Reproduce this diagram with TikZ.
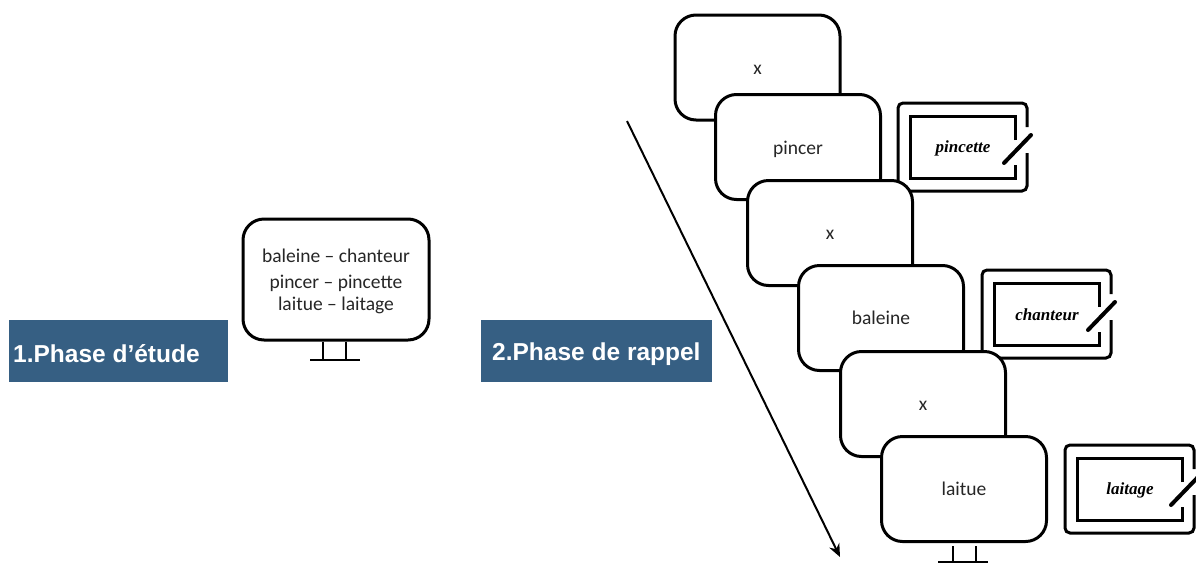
\documentclass[tikz,border=0pt]{standalone}
\usepackage{fontspec}
\setmainfont{Carlito}
\newfontfamily\labelfont{Liberation Sans}
\newfontfamily\wordfont{Liberation Serif}
\usetikzlibrary{arrows.meta}
\definecolor{phaseblue}{HTML}{365F83}
\newcommand{\lowered}[2]{\raisebox{-#1}[\height][\depth]{#2}}
\tikzset{
  screen/.style={draw=black,fill=white,line width=3pt,rounded corners=21pt,minimum width=165pt,minimum height=105pt,inner sep=0pt,font=\fontsize{19.5}{19.5}\selectfont,text=black!85},
  stand/.style={draw=black,line width=2.2pt},
  phase/.style={fill=phaseblue,text=white,minimum height=62pt,inner sep=0pt},
  phasetext/.style={anchor=west,text=white,inner sep=0pt,font=\fontsize{24.5}{24.5}\selectfont\labelfont\bfseries},
  frame/.style={draw=black,line width=3pt},
  pen/.style={draw=black,line width=4pt,line cap=round},
  written/.style={font=\fontsize{17}{17}\selectfont\wordfont\bfseries\itshape,text=black}
}
\begin{document}
\begin{tikzpicture}[x=1pt,y=-1pt]
\useasboundingbox (0,0) rectangle (1196,563);
\node[phase,minimum width=219pt] (study) at (118.5,351) {};
\node[phase,minimum width=231pt] (recall) at (596.5,351) {};
\node[phasetext] (studytext) at (13,354) {1.Phase d’étude};
\node[phasetext] (recalltext) at (492,354) {2.Phase de rappel};
% monitor of the study phase
\node[screen,minimum width=186pt,minimum height=121pt,align=center] (monitor) at (336,279.5) {\lowered{1pt}{baleine -- chanteur}\\[4pt]\lowered{3pt}{pincer -- pincette}\\[3pt]\lowered{3pt}{laitue -- laitage}};
\coordinate (standa) at (323,360);
\coordinate (standb) at (346,360);
\coordinate (basea) at (310,360);
\coordinate (baseb) at (360,360);
\draw[stand] (monitor.south -| standa) -- (standa);
\draw[stand] (monitor.south -| standb) -- (standb);
\draw[stand] (basea) -- (baseb);
% time arrow
\coordinate (timea) at (627,121);
\coordinate (timeb) at (840,557);
\draw[line width=2pt,-{Stealth[length=13pt,width=11pt]}] (timea) -- (timeb);
% tablets
\foreach \x/\y/\word/\name in {898/103/pincette/ta,982/270/chanteur/tb,1065/445/laitage/tc}{
  \begin{scope}[shift={(\x,\y)}]
    \draw[frame,rounded corners=5pt] (129,24) -- (129,0) -- (0,0) -- (0,88) -- (129,88) -- (129,50);
    \draw[frame] (117,37) -- (117,13) -- (12,13) -- (12,75) -- (117,75) -- (117,62);
    \node[written] (\name) at (65,45) {\word};
    \coordinate (\name a) at (106,60);
    \coordinate (\name b) at (133,32);
    \draw[pen] (\name a) -- (\name b);
  \end{scope}
}
% stand of the last screen
\coordinate (lasta) at (953,563);
\coordinate (lastb) at (976,563);
\coordinate (lastc) at (938,562);
\coordinate (lastd) at (988,562);
\coordinate (topa) at (953,546);
\coordinate (topb) at (976,546);
\draw[stand] (topa) -- (lasta);
\draw[stand] (topb) -- (lastb);
\draw[stand] (lastc) -- (lastd);
% screens, each one over the one before
\node[screen] (sa) at (757.5,67.5) {\lowered{2pt}{x}};
\node[screen] (sb) at (798,147) {\lowered{2pt}{pincer}};
\node[screen] (sc) at (830,233) {\lowered{2pt}{x}};
\node[screen] (sd) at (881,318) {baleine};
\node[screen] (se) at (923,404) {\lowered{2pt}{x}};
\node[screen] (sf) at (964,489) {laitue};
\end{tikzpicture}
\end{document}
